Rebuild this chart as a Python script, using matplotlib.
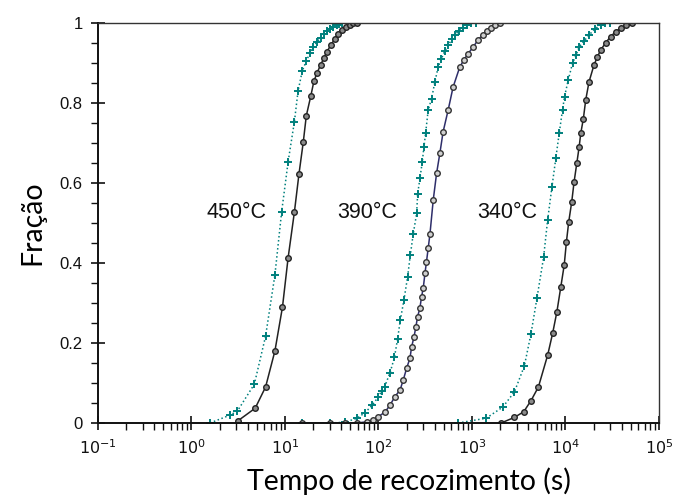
import matplotlib
matplotlib.use("Agg")
import matplotlib.pyplot as plt
from matplotlib.ticker import LogLocator, FixedLocator, NullFormatter

plt.rcParams['mathtext.fontset'] = 'custom'
plt.rcParams['mathtext.rm'] = 'Liberation Sans'
plt.rcParams['mathtext.it'] = 'Liberation Sans'
plt.rcParams['mathtext.default'] = 'regular'

# ---- data ----
t450_teal = [1.58, 2.6, 3.1, 4.7, 6.2, 7.8, 9.2, 10.8, 12.6, 13.8, 15.3, 16.9, 18.5, 20, 22, 24, 26, 28, 30, 33, 36, 38, 41]
f450_teal = [0.0, 0.02, 0.03, 0.097, 0.217, 0.37, 0.527, 0.653, 0.753, 0.83, 0.88, 0.905, 0.925, 0.94, 0.953, 0.963, 0.972, 0.979, 0.985, 0.991, 0.996, 0.998, 1.0]

t450_black = [3.16, 4.8, 6.2, 7.8, 9.4, 10.8, 12.6, 14.1, 15.7, 16.9, 18.9, 20.4, 22, 24, 26, 28, 31, 34, 37, 41, 45, 50, 54, 58.8]
f450_black = [0.006, 0.037, 0.09, 0.18, 0.29, 0.413, 0.527, 0.622, 0.703, 0.768, 0.818, 0.855, 0.875, 0.895, 0.912, 0.928, 0.945, 0.96, 0.972, 0.982, 0.99, 0.996, 0.999, 1.0]

t390_teal = [15.3, 30.6, 44, 59, 72, 86, 100, 108, 116, 133, 148, 160, 171, 187, 205, 219, 235, 256, 262, 278, 294, 306, 319, 340, 369, 401, 435, 470, 512, 560, 610, 655, 720, 800, 880, 984, 1100]
f390_teal = [0.0, 0.0, 0.002, 0.012, 0.026, 0.045, 0.066, 0.08, 0.09, 0.126, 0.164, 0.21, 0.257, 0.307, 0.366, 0.42, 0.472, 0.524, 0.572, 0.613, 0.653, 0.69, 0.724, 0.7825, 0.81, 0.853, 0.89, 0.91, 0.93, 0.945, 0.96, 0.97, 0.98, 0.988, 0.994, 0.999, 1.0]

t390_black = [15.3, 30.6, 44, 59, 75, 88, 100, 118, 133, 150, 170, 184, 200, 217, 226, 240, 251, 262, 277, 289, 301, 314, 326, 340, 355, 385, 418, 453, 491, 556, 628, 740, 820, 906, 1030, 1158, 1300, 1450, 1605, 1780, 1970]
f390_black = [0.0, 0.0, 0.0, 0.0, 0.003, 0.007, 0.016, 0.028, 0.045, 0.066, 0.0825, 0.1075, 0.137, 0.162, 0.19, 0.216, 0.24, 0.266, 0.287, 0.316, 0.337, 0.374, 0.403, 0.437, 0.472, 0.5575, 0.624, 0.674, 0.728, 0.7825, 0.84, 0.89, 0.908, 0.923, 0.94, 0.9575, 0.97, 0.98, 0.987, 0.995, 1.0]

t340_teal = [710, 1420, 2140, 2845, 3630, 4270, 4950, 5830, 6440, 7150, 7880, 8560, 9290, 9770, 10700, 11900, 13000, 14000, 15800, 17900, 20500, 23800, 26500, 30000]
f340_teal = [0.0, 0.012, 0.04, 0.078, 0.1425, 0.2225, 0.312, 0.414, 0.5075, 0.589, 0.662, 0.724, 0.7825, 0.816, 0.8575, 0.9, 0.92, 0.94, 0.955, 0.97, 0.985, 0.995, 0.999, 1.0]

t340_black = [2050, 2840, 3570, 4280, 5130, 6450, 7280, 8090, 8920, 9690, 10230, 10830, 11660, 12360, 13200, 13990, 14560, 15530, 16450, 17850, 20170, 21900, 23790, 26800, 30330, 34300, 38750, 44500, 51600]
f340_black = [0.0, 0.014, 0.028, 0.056, 0.09, 0.17, 0.224, 0.278, 0.341, 0.395, 0.453, 0.503, 0.553, 0.603, 0.649, 0.69, 0.724, 0.761, 0.8075, 0.853, 0.895, 0.915, 0.9325, 0.95, 0.966, 0.978, 0.987, 0.995, 1.0]

labels = ["450°C", "390°C", "340°C"]
label_x = [6.3, 160, 5000]
label_y = 0.525

x_ticks = [1e-1, 1e0, 1e1, 1e2, 1e3, 1e4, 1e5]
x_ticklabels = ["$10^{-1}$", "$10^{0}$", "$10^{1}$", "$10^{2}$", "$10^{3}$", "$10^{4}$", "$10^{5}$"]
y_ticks = [0, 0.2, 0.4, 0.6, 0.8, 1]
y_ticklabels = ["0", "0.2", "0.4", "0.6", "0.8", "1"]

teal = "#00807d"

fig = plt.figure(figsize=(6.73, 5.0), dpi=100)
ax = fig.add_axes([0.1456, 0.154, 0.8336, 0.8])

teal_kw = dict(color=teal, ls=':', lw=1.1, marker='+', ms=5.5, mew=1.4)
black_kw = dict(color='#222222', ls='-', lw=1.1, marker='o', ms=4, mfc='#8a8a8a', mec='#222222', mew=1.0)

ax.plot(t450_teal, f450_teal, **teal_kw)
ax.plot(t450_black, f450_black, **black_kw)
ax.plot(t390_teal, f390_teal, **teal_kw)
kw390 = dict(black_kw)
kw390.update(color='#2e2e6a', mfc='#cfcfcf', mec='#333333')
ax.plot(t390_black, f390_black, **kw390)
ax.plot(t340_teal, f340_teal, **teal_kw)
ax.plot(t340_black, f340_black, **black_kw)

for lab, lx in zip(labels, label_x):
    ax.text(lx, label_y, lab, ha='right', va='center', fontsize=15.5,
            family='Liberation Sans', color='#111111')

ax.set_xscale('log')
ax.set_xlim(1e-1, 1e5)
ax.set_ylim(0, 1)

ax.xaxis.set_major_locator(FixedLocator(x_ticks))
ax.set_xticklabels(x_ticklabels, fontsize=11.5)
ax.xaxis.set_minor_locator(LogLocator(base=10, subs=range(2, 10), numticks=20))
ax.xaxis.set_minor_formatter(NullFormatter())
ax.set_yticks(y_ticks)
ax.set_yticklabels(y_ticklabels, fontsize=12, family='Liberation Sans')
ax.set_yticks([0.1, 0.3, 0.5, 0.7, 0.9, 0.05, 0.15, 0.25, 0.35, 0.45, 0.55, 0.65, 0.75, 0.85, 0.95], minor=True)

ax.tick_params(axis='both', which='major', direction='inout', length=10, width=1.2,
               top=False, right=False, colors='#111111', pad=6)
ax.tick_params(axis='both', which='minor', direction='out', length=5, width=1.0,
               top=False, right=False, colors='#111111')
for s in ['left', 'bottom']:
    ax.spines[s].set_linewidth(1.4)
    ax.spines[s].set_color('#111111')
for s in ['top', 'right']:
    ax.spines[s].set_linewidth(1.0)
    ax.spines[s].set_color('#333333')

ax.set_xlabel("Tempo de recozimento (s)", fontsize=20.5, family='Lato')
ax.xaxis.set_label_coords(0.555, -0.112)
ax.set_ylabel("Fração", fontsize=20.5, family='Lato', labelpad=10)

fig.savefig("out.png", dpi=100)
